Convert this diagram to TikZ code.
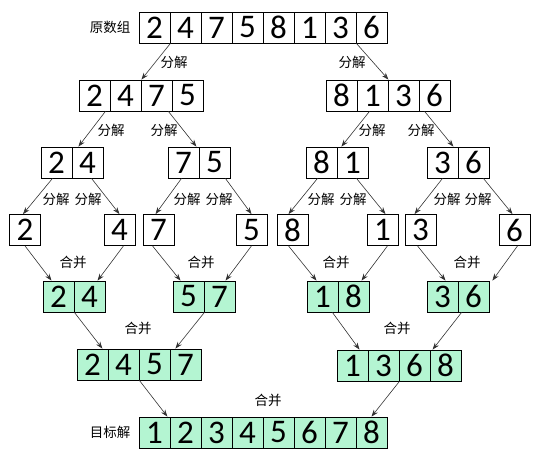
\documentclass[tikz,border=0pt]{standalone}
\usepackage{fontspec}
\setmainfont{Carlito}
\newfontfamily\cjk{Noto Sans CJK SC}
\usetikzlibrary{arrows.meta,positioning}
\definecolor{mint}{RGB}{180,245,210}
\tikzset{
  cell/.style={draw,line width=0.8pt,minimum width=31pt,minimum height=31pt,inner sep=0pt,font=\fontsize{33}{33}\selectfont},
  done/.style={cell,fill=mint},
  lbl/.style={font=\cjk\fontsize{13.5}{14}\selectfont,inner sep=1pt},
  arr/.style={-{Stealth[length=7pt,width=5pt]},draw=black!80,line width=0.6pt}
}
% one row of cells: name, left x, top y, style, digits
\newcommand{\cellrow}[5]{%
  \foreach \d [count=\i] in {#5}
    \node[#4] (#1\i) at ({#2+31*\i-15.5},{#3+15.5}) {\d};
}
\begin{document}
\begin{tikzpicture}[x=1pt,y=-1pt]
	\useasboundingbox (0,0) rectangle (540,460);
	% split
	\cellrow{o}{139}{12}{cell}{2,4,7,5,8,1,3,6}
	\cellrow{ha}{79}{80}{cell}{2,4,7,5}
	\cellrow{hb}{326}{80}{cell}{8,1,3,6}
	\cellrow{qa}{41}{147}{cell}{2,4}
	\cellrow{qb}{168}{147}{cell}{7,5}
	\cellrow{qc}{306}{147}{cell}{8,1}
	\cellrow{qd}{427}{147}{cell}{3,6}
	\node[cell] (sa) at (25,230) {2};
	\node[cell] (sb) at (119.5,230) {4};
	\node[cell] (sc) at (158.5,230) {7};
	\node[cell] (sd) at (251.5,230) {5};
	\node[cell] (se) at (292.5,230) {8};
	\node[cell] (sf) at (382.5,230) {1};
	\node[cell] (sg) at (420.5,230) {3};
	\node[cell] (sh) at (514.5,230) {6};
	% merge
	\cellrow{ma}{43}{281}{done}{2,4}
	\cellrow{mb}{173}{281}{done}{5,7}
	\cellrow{mc}{307}{281}{done}{1,8}
	\cellrow{md}{427}{281}{done}{3,6}
	\cellrow{na}{77}{349}{done}{2,4,5,7}
	\cellrow{nb}{337}{350}{done}{1,3,6,8}
	\cellrow{g}{139}{417}{done}{1,2,3,4,5,6,7,8}
	\node[lbl,left=7pt of o1] (src) {原数组};
	\node[lbl,left=7pt of g1] (dst) {目标解};

	\draw[arr] (o1.south east) -- (ha2.north east);
	\draw[arr] (o7.south east) -- (hb2.north east);
	\draw[arr] ([xshift=-5pt]ha1.south east) -- ([xshift=6pt]qa1.north east);
	\draw[arr] ([xshift=-4pt]ha3.south east) -- ([xshift=-3pt]qb1.north east);
	\draw[arr] ([xshift=-3pt]hb2.south) -- ([xshift=4pt]qc1.north east);
	\draw[arr] ([xshift=6pt]hb4.south west) -- ([xshift=-5pt]qd1.north east);

	\draw[arr] ([xshift=-4pt]qa1.south) -- ([xshift=-2pt]sa.north);
	\draw[arr] ([xshift=4pt]qa2.south) -- (sb.north);
	\draw[arr] ([xshift=-2pt]qb1.south) -- ([xshift=-3pt]sc.north);
	\draw[arr] ([xshift=-5pt]qb2.south east) -- (sd.north);
	\draw[arr] ([xshift=-4pt]qc1.south) -- ([xshift=-4pt]se.north);
	\draw[arr] ([xshift=4pt]qc2.south) -- ([xshift=3pt]sf.north);
	\draw[arr] (qd1.south) -- ([xshift=-6pt]sg.north);
	\draw[arr] ([xshift=-6pt]qd2.south east) -- ([xshift=-2pt]sh.north);

	\draw[arr] (sa.south) -- ([xshift=-7pt]ma1.north);
	\draw[arr] ([xshift=4pt]sb.south) -- ([xshift=8pt]ma2.north);
	\draw[arr] ([xshift=-6pt]sc.south) -- ([xshift=-8pt]mb1.north);
	\draw[arr] (sd.south) -- ([xshift=6pt]mb2.north);
	\draw[arr] ([xshift=-4pt]se.south) -- ([xshift=-6pt]mc1.north);
	\draw[arr] ([xshift=5pt]sf.south) -- ([xshift=8pt]mc2.north);
	\draw[arr] ([xshift=-3pt]sg.south) -- ([xshift=3pt]md1.north);
	\draw[arr] ([xshift=3pt]sh.south) -- ([xshift=3pt]md2.north east);

	\draw[arr] (ma1.south east) -- ([xshift=-6pt]na1.north east);
	\draw[arr] (mb1.south east) -- ([xshift=5pt]na3.north east);
	\draw[arr] ([xshift=-6pt]mc1.south east) -- ([xshift=7pt]nb1.north);
	\draw[arr] ([xshift=4pt]md2.south west) -- ([xshift=3pt]nb4.north west);

	\draw[arr] (na2.south east) -- ([xshift=-3pt]g1.north east);
	\draw[arr] (nb2.south east) -- (g8.north);

	% labels
	\node[lbl] (f1) at (174,62) {分解};
	\node[lbl] (f2) at (352,62) {分解};
	\node[lbl] (f3) at (111,130) {分解};
	\node[lbl] (f4) at (164,130) {分解};
	\node[lbl] (f5) at (372,130) {分解};
	\node[lbl] (f6) at (421,130) {分解};
	\node[lbl] (f7) at (56,199) {分解};
	\node[lbl] (f8) at (88,199) {分解};
	\node[lbl] (f9) at (187,199) {分解};
	\node[lbl] (f10) at (219,199) {分解};
	\node[lbl] (f11) at (321,199) {分解};
	\node[lbl] (f12) at (353,199) {分解};
	\node[lbl] (f13) at (447,199) {分解};
	\node[lbl] (f14) at (478,199) {分解};
	\node[lbl] (h1) at (73,262) {合并};
	\node[lbl] (h2) at (201,262) {合并};
	\node[lbl] (h3) at (336,262) {合并};
	\node[lbl] (h4) at (467,262) {合并};
	\node[lbl] (h5) at (138,328) {合并};
	\node[lbl] (h6) at (397,328) {合并};
	\node[lbl] (h7) at (268,400) {合并};
\end{tikzpicture}
\end{document}
